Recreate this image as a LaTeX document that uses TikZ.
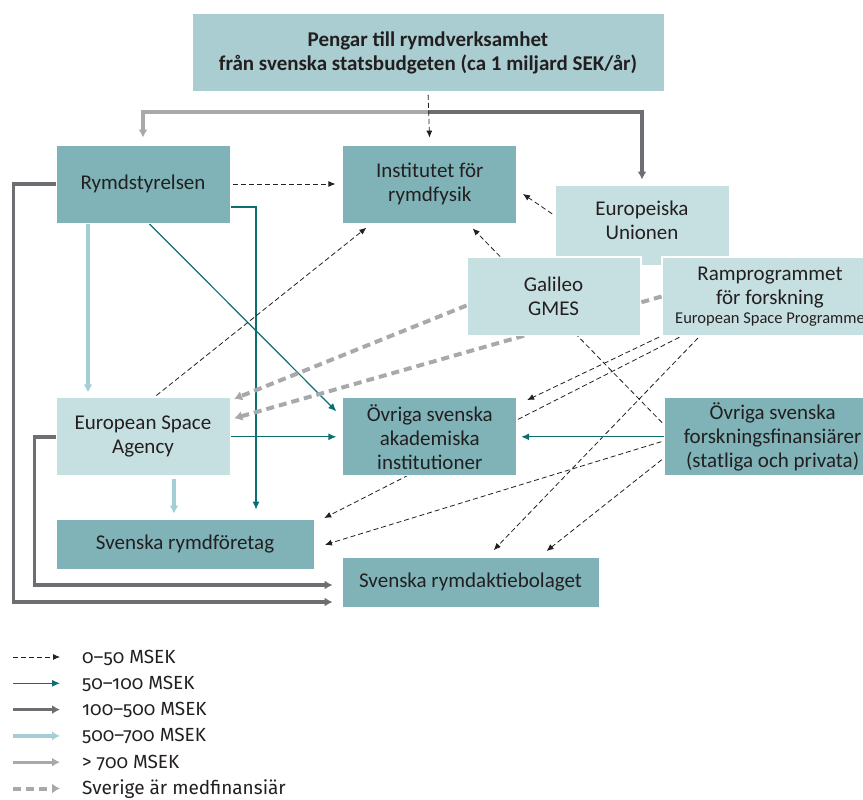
\documentclass[tikz,border=0pt]{standalone}
\usepackage{fontspec}
\setmainfont{Carlito}
\newfontfamily\legendfont[Numbers=OldStyle]{Fira Sans}
\usetikzlibrary{arrows.meta,positioning}
\pgfdeclarelayer{bg}
\pgfsetlayers{bg,main}

\definecolor{topfill}{RGB}{170,205,209}
\definecolor{darkbox}{RGB}{127,179,183}
\definecolor{lightbox}{RGB}{198,224,226}
\definecolor{textcol}{RGB}{35,31,32}
\definecolor{tealline}{RGB}{11,111,113}
\definecolor{darkgrey}{RGB}{109,110,113}
\definecolor{lightteal}{RGB}{163,207,212}
\definecolor{lightgrey}{RGB}{167,169,172}

\tikzset{
  basic/.style  = {rectangle, inner sep=0pt, align=center, text=textcol,
                   draw=white, line width=0.8pt, font=\fontsize{21}{24}\selectfont},
  root/.style   = {basic, fill=topfill, minimum width=472pt, minimum height=78pt,
                   font=\fontsize{21}{24}\selectfont\bfseries},
  dark/.style   = {basic, fill=darkbox, minimum width=174pt, minimum height=78pt},
  light/.style  = {basic, fill=lightbox, minimum width=174pt, minimum height=78pt},
  legend/.style = {anchor=base west, inner sep=0pt, text=textcol,
                   font=\legendfont\fontsize{19}{22}\selectfont},
  msek 1/.style = {draw=textcol, line width=0.8pt, dash pattern=on 5pt off 3pt,
                   -{Latex[length=7pt,width=6pt]}, shorten >=7pt, shorten <=3pt},
  msek 2/.style = {draw=tealline, line width=1.2pt,
                   -{Latex[length=8pt,width=7pt]}, shorten >=6pt},
  msek 3/.style = {draw=darkgrey, line width=3.5pt,
                   -{Latex[length=8pt,width=9pt]}, shorten >=7pt},
  msek 4/.style = {draw=lightteal, line width=3.2pt,
                   -{Latex[length=8pt,width=9pt]}, shorten >=5pt},
  msek 5/.style = {draw=lightgrey, line width=3.2pt,
                   -{Latex[length=8pt,width=9pt]}, shorten >=7pt},
  cofund/.style = {draw=lightgrey, line width=4pt, dash pattern=on 8pt off 5pt,
                   -{Latex[length=8pt,width=10pt]}, shorten >=4pt}
}

\begin{document}
\begin{tikzpicture}[x=1pt, y=-1pt]
\path[use as bounding box, clip] (0,0) rectangle (863,800);

% budget and first row
\node[root] (pengar) at (428,52.5) {Pengar till rymdverksamhet\\från svenska statsbudgeten (ca 1 miljard SEK/år)};
\node[dark] (rymd) at (143,184) {Rymdstyrelsen};
\node[dark, right=112pt of rymd] (irf) {Institutet för\\rymdfysik};
\node[light, minimum height=71pt] (eu) at (642,220.5) {Europeiska\\Unionen};
\node[light, draw=none, minimum width=19pt, minimum height=9pt,
      below=-1pt of eu, xshift=9.5pt] (eutab) {};
\node[light, minimum width=173pt] (galileo) at (553.5,296.5) {Galileo\\GMES};
\node[light, minimum width=216pt] (ramp) at (770,296.5)
  {Ramprogrammet\\för forskning\\[-5pt]{\fontsize{16.5}{18}\selectfont European Space Programme}};

% receivers
\node[light, below=174pt of rymd] (esa) {European Space\\Agency};
\node[dark, below=174pt of irf] (akad) {Övriga svenska\\akademiska\\institutioner};
\node[dark, minimum width=216pt, right=147pt of akad] (finans)
  {Övriga svenska\\forskningsfinansiärer\\(statliga och privata)};
\node[dark, minimum width=258pt, minimum height=50pt] (foretag) at (185,544) {Svenska rymdföretag};
\node[dark, minimum width=257pt, minimum height=50pt] (ssc) at (470.5,582) {Svenska rymdaktiebolaget};

% money flows, behind the boxes
\begin{pgfonlayer}{bg}
\coordinate (split) at (pengar.south |- 0,112);
\draw[msek 5] (split) -| (rymd.north);
\draw[msek 3, shorten >=5pt] (split) -| (eu.north);
\draw[msek 1] (pengar.south) -- (irf.north);

\draw[msek 1] (rymd.east) -- (irf.west);
\draw[msek 3, shorten >=9pt] (rymd.west) -- ++(-42,0) |- ([yshift=-20pt]ssc.west);
\draw[msek 2, shorten >=9pt] ([yshift=-23pt]rymd.east) -| ([xshift=71pt]foretag.north);
\draw[msek 4] ([xshift=-55pt]rymd.south) -- ([xshift=-55pt]esa.north);
\draw[msek 2, shorten >=0pt] ([xshift=6pt]rymd.south) -- ([shift={(-6pt,-14pt)}]akad.north west);

\draw[msek 1] ([xshift=11pt]esa.north) -- ([xshift=-58pt]irf.south);
\draw[msek 1] ([yshift=5pt]eu.west) -- ([yshift=-6pt]irf.east);
\draw[msek 1] ([yshift=12pt]finans.west) -- ([xshift=38pt]irf.south);

\draw[msek 1, shorten >=11pt] (ramp.south west) -- ([yshift=32pt]akad.east);
\draw[msek 1, shorten >=11pt] ([xshift=-88pt]ramp.south) -- ([yshift=21pt]foretag.east);
\draw[msek 1, shorten >=9pt] ([xshift=-70pt]ramp.south) -- ([xshift=17pt]ssc.north);

\draw[msek 2, shorten >=4pt] (finans.west) -- (akad.east);
\draw[msek 2] (esa.east) -- (akad.west);
\draw[msek 4, shorten <=3pt] ([xshift=31pt]esa.south) -- ([xshift=-11pt]foretag.north);
\draw[msek 3, shorten >=9pt] (esa.west) -- ++(-21,0) |- ([yshift=-3pt]ssc.west);

\draw[msek 1, shorten >=11pt] ([yshift=-4pt]finans.west) -- ([yshift=-4pt]foretag.east);
\draw[msek 1, shorten >=9pt] ([yshift=-21pt]finans.west) -- ([xshift=69pt]ssc.north);

\draw[cofund] ([yshift=-9pt]galileo.west) -- ([yshift=-3pt]esa.north east);
\draw[cofund] (ramp.west) -- ([yshift=-22pt]esa.north east);
\end{pgfonlayer}

% legend
\foreach \sty/\txt [count=\i] in {msek 1/0–50 MSEK, msek 2/50–100 MSEK,
    msek 3/100–500 MSEK, msek 4/500–700 MSEK, msek 5/> 700 MSEK,
    cofund/Sverige är medfinansiär}
{
  \node[legend] (leg\i) at (82, {663+26.3*(\i-1)}) {\txt};
  \draw[\sty, shorten >=0pt, shorten <=0pt] ([shift={(-69pt,6pt)}]leg\i.base west)
    -- ([shift={(-22pt,6pt)}]leg\i.base west);
}

\end{tikzpicture}
\end{document}
